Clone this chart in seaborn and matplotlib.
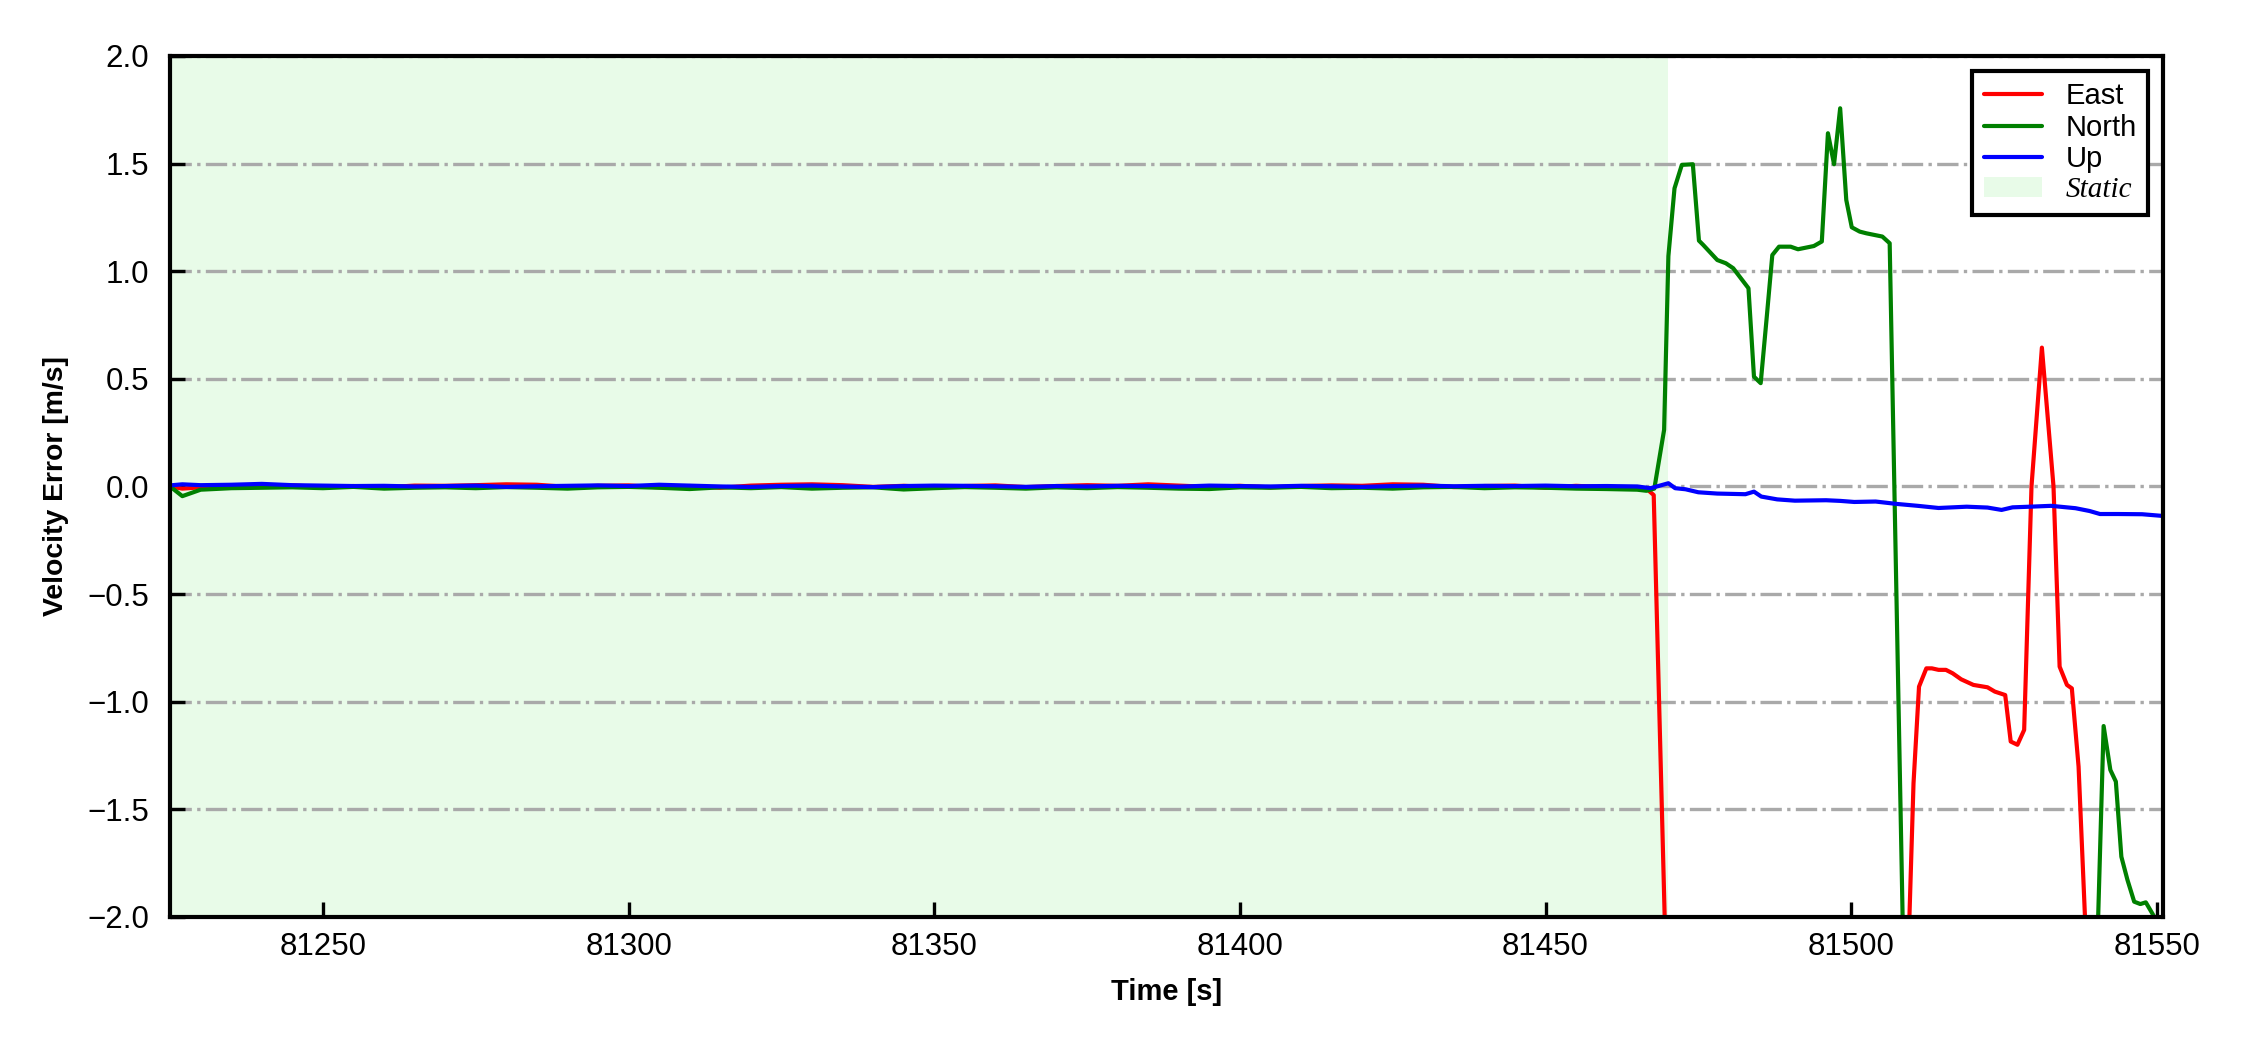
import matplotlib
matplotlib.use('Agg')
import matplotlib.pyplot as plt
from matplotlib.ticker import MultipleLocator
import seaborn as sns

# static period (all three components stay near zero)
t_static = [81225, 81227, 81230, 81235, 81240, 81245, 81250, 81255, 81260, 81265,
            81270, 81275, 81280, 81285, 81290, 81295, 81300, 81305, 81310, 81315,
            81320, 81325, 81330, 81335, 81340, 81345, 81350, 81355, 81360, 81365,
            81370, 81375, 81380, 81385, 81390, 81395, 81400, 81405, 81410, 81415,
            81420, 81425, 81430, 81435, 81440, 81445, 81450, 81455, 81460, 81465]
east_static = [0.000, -0.010, -0.004, 0.003, 0.002, 0.005, -0.003, 0.002, -0.004, 0.004,
               0.003, 0.006, 0.010, 0.008, -0.002, 0.003, 0.005, -0.004, 0.002, -0.006,
               0.004, 0.008, 0.010, 0.006, -0.002, 0.003, -0.004, 0.002, 0.005, -0.003,
               0.002, 0.006, 0.003, 0.010, 0.004, -0.002, 0.003, -0.004, 0.002, 0.005,
               0.003, 0.010, 0.008, -0.003, 0.002, 0.004, -0.006, 0.003, -0.004, -0.008]
north_static = [0.000, -0.045, -0.015, -0.008, -0.006, -0.004, -0.008, -0.002, -0.010, -0.006,
                -0.004, -0.008, -0.003, -0.006, -0.010, -0.004, -0.002, -0.006, -0.012, -0.004,
                -0.008, -0.003, -0.010, -0.006, -0.004, -0.014, -0.008, -0.003, -0.006, -0.010,
                -0.004, -0.008, -0.003, -0.006, -0.010, -0.012, -0.004, -0.006, -0.002, -0.008,
                -0.006, -0.010, -0.004, -0.002, -0.008, -0.004, -0.006, -0.010, -0.012, -0.015]
up_static = [0.005, 0.010, 0.006, 0.008, 0.012, 0.006, 0.004, 0.002, 0.003, 0.000,
             0.002, 0.004, -0.002, 0.001, 0.003, 0.005, 0.002, 0.008, 0.004, 0.000,
             -0.002, 0.002, 0.004, 0.000, -0.003, 0.002, 0.004, 0.003, 0.001, -0.002,
             0.002, 0.000, 0.003, 0.002, -0.001, 0.004, 0.002, 0.000, 0.003, 0.001,
             -0.002, 0.002, 0.004, 0.001, 0.003, 0.002, 0.004, 0.001, 0.002, 0.000]

# dynamic period
t_east = [81466.5, 81467.7, 81470.5, 81480.0, 81490.0, 81500.0, 81509.1, 81510.2, 81511.1, 81512.3,
          81513.2, 81514.3, 81515.5, 81516.6, 81518.0, 81520.0, 81522.3, 81523.5, 81525.2, 81526.1,
          81527.2, 81528.3, 81529.5, 81531.2, 81533.1, 81534.1, 81535.3, 81536.1, 81537.2, 81539.0,
          81545.0, 81551.0]
east_dyn = [-0.010, -0.040, -3.100, -3.800, -4.200, -3.600, -2.400, -1.379, -0.930, -0.845,
            -0.845, -0.852, -0.852, -0.868, -0.896, -0.922, -0.933, -0.953, -0.969, -1.185,
            -1.200, -1.131, 0.000, 0.645, 0.000, -0.837, -0.922, -0.938, -1.301, -2.500,
            -3.000, -2.800]

t_north = [81466.5, 81467.8, 81469.4, 81470.1, 81471.1, 81472.3, 81474.1, 81475.1, 81475.8, 81478.1,
           81479.5, 81480.7, 81483.2, 81484.1, 81485.2, 81486.2, 81487.1, 81488.2, 81490.1, 81491.3,
           81493.9, 81495.2, 81496.2, 81497.2, 81498.2, 81499.2, 81500.1, 81501.4, 81502.5, 81505.1,
           81506.3, 81509.5, 81520.0, 81530.0, 81539.6, 81541.3, 81542.4, 81543.3, 81544.2, 81545.2,
           81546.3, 81547.3, 81548.2, 81549.6, 81551.0]
north_dyn = [-0.020, -0.010, 0.263, 1.070, 1.385, 1.494, 1.497, 1.142, 1.122, 1.052,
             1.037, 1.014, 0.921, 0.510, 0.480, 0.790, 1.075, 1.114, 1.114, 1.102,
             1.117, 1.138, 1.641, 1.497, 1.757, 1.331, 1.204, 1.184, 1.176, 1.161,
             1.130, -3.600, -4.500, -4.000, -2.800, -1.113, -1.317, -1.371, -1.720, -1.828,
             -1.929, -1.940, -1.932, -2.000, -2.300]

t_up = [81467.2, 81470.1, 81471.2, 81472.9, 81475.0, 81478.1, 81482.7, 81484.1, 81485.3, 81487.9,
        81490.8, 81495.9, 81498.2, 81500.5, 81504.0, 81507.4, 81510.9, 81514.3, 81518.9, 81522.3,
        81524.6, 81526.4, 81529.2, 81532.7, 81536.7, 81539.0, 81540.7, 81543.6, 81547.6, 81551.0]
up_dyn = [-0.008, 0.015, -0.008, -0.013, -0.027, -0.033, -0.036, -0.024, -0.047, -0.060,
          -0.066, -0.064, -0.067, -0.072, -0.070, -0.081, -0.090, -0.100, -0.094, -0.098,
          -0.109, -0.097, -0.094, -0.090, -0.101, -0.114, -0.128, -0.128, -0.129, -0.137]

static_start = 81225
static_end = 81470.0
x_ticks_step = 50
y_ticks = [-2.0, -1.5, -1.0, -0.5, 0.0, 0.5, 1.0, 1.5, 2.0]


def main():
    sns.set_style('white')
    plt.rcParams['font.family'] = ['Liberation Sans', 'DejaVu Sans']
    plt.rcParams['axes.unicode_minus'] = True
    plt.rcParams['text.color'] = 'black'
    plt.rcParams['axes.labelcolor'] = 'black'
    plt.rcParams['xtick.color'] = 'black'
    plt.rcParams['ytick.color'] = 'black'

    fig, ax = plt.subplots(figsize=(7.5, 3.5), dpi=300)
    fig.subplots_adjust(left=0.0756, right=0.9613, top=0.9467, bottom=0.1267)

    series = [('East', 'red', t_static + t_east, east_static + east_dyn),
              ('North', 'green', t_static + t_north, north_static + north_dyn),
              ('Up', 'blue', t_static + t_up, up_static + up_dyn)]
    for name, color, t, v in series:
        sns.lineplot(x=t, y=v, color=color, linewidth=1.0, label=name,
                     estimator=None, sort=False, ax=ax)

    ax.axvspan(static_start, static_end, color='lightgreen', alpha=0.2,
               linewidth=0, label='Static', zorder=0)

    ax.set_xlim(81225, 81551)
    ax.set_ylim(-2, 2)
    ax.set_yticks(y_ticks)
    ax.xaxis.set_major_locator(MultipleLocator(x_ticks_step))
    ax.ticklabel_format(axis='x', useOffset=False, style='plain')

    ax.grid(axis='y', linestyle='-.', color='darkgray', linewidth=0.8)
    ax.grid(axis='x', visible=False)

    for s in ax.spines.values():
        s.set_linewidth(1.0)
        s.set_color('black')
    ax.tick_params(axis='both', direction='in', length=3.5, width=0.8,
                   labelsize=7.5, colors='black', bottom=True, left=True)
    ax.tick_params(axis='y', pad=5.0)
    ax.tick_params(axis='x', pad=3.5)

    ax.set_xlabel('Time [s]', fontsize=7, fontweight='bold', labelpad=4)
    ax.set_ylabel('Velocity Error [m/s]', fontsize=6.8, fontweight='bold', labelpad=4.5)

    leg = ax.legend(loc='upper right', fontsize=7, frameon=True, fancybox=False,
                    edgecolor='black', framealpha=1, labelspacing=0.12,
                    borderpad=0.4, handlelength=2.0, handletextpad=0.8,
                    borderaxespad=0.5)
    leg.get_frame().set_linewidth(1.0)
    for txt in leg.get_texts():
        if txt.get_text() == 'Static':
            txt.set_fontfamily(['Liberation Serif', 'DejaVu Serif'])
            txt.set_fontstyle('italic')

    fig.savefig('out.png', dpi=300)


if __name__ == '__main__':
    main()
